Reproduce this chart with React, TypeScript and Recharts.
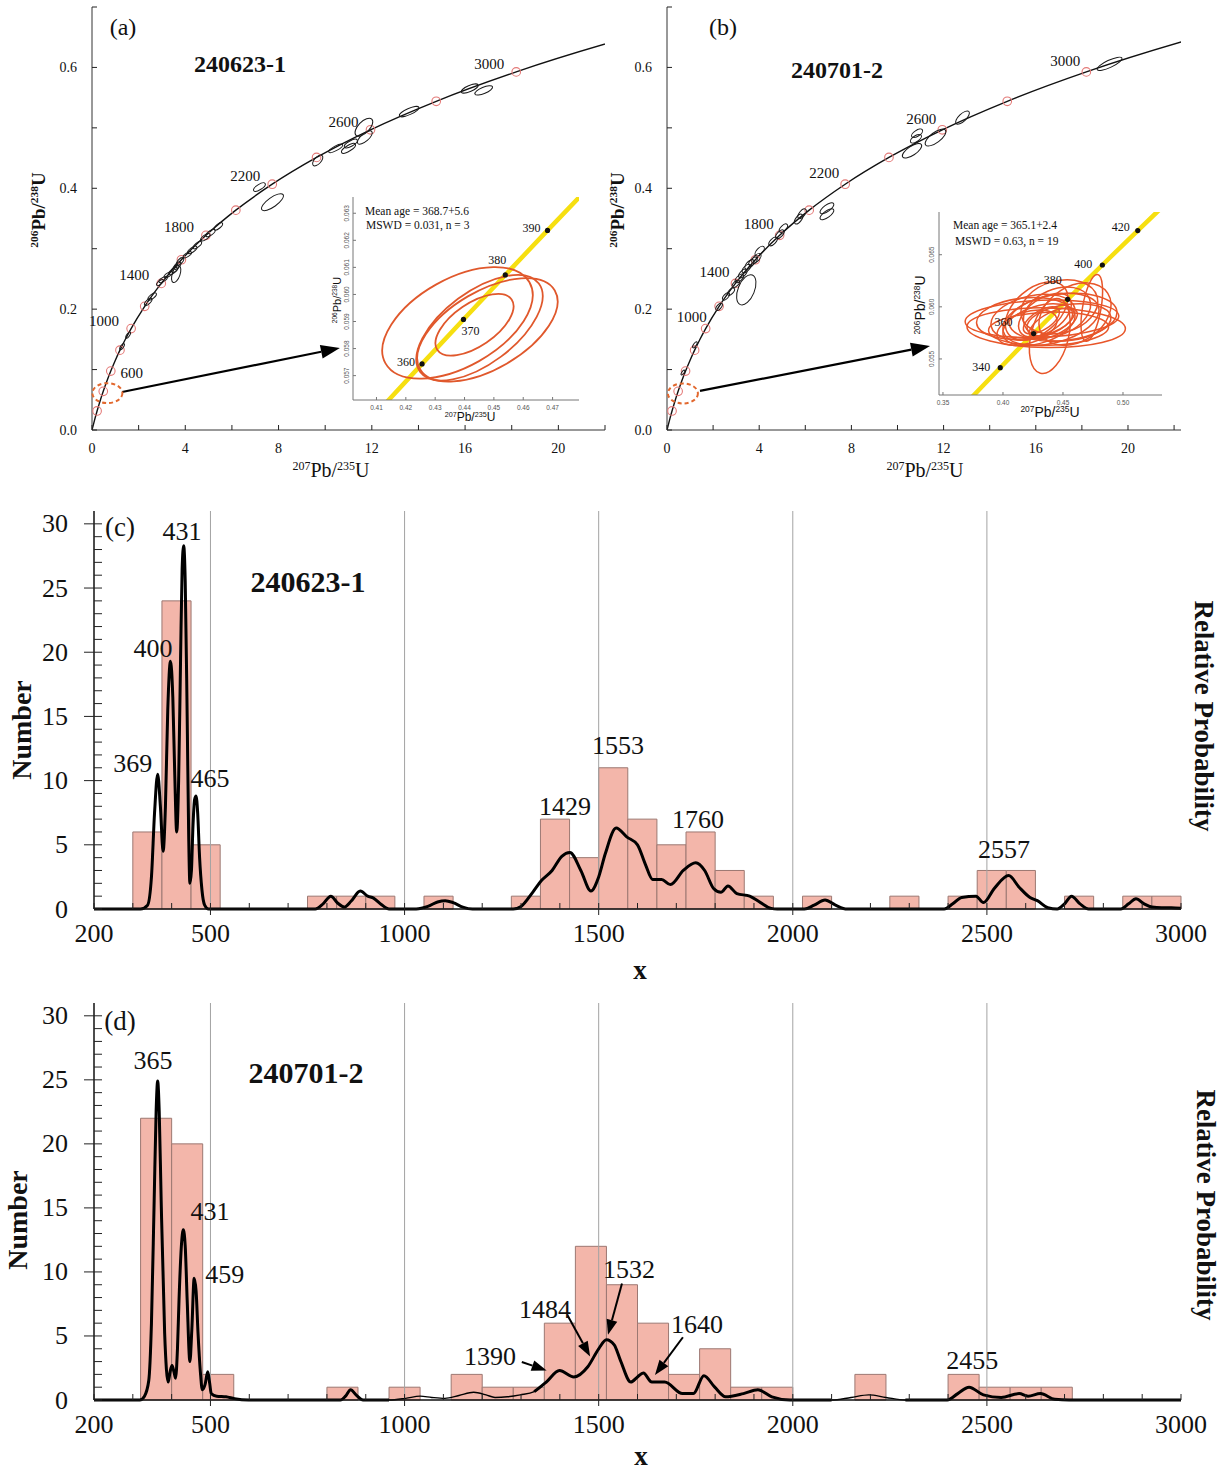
import React from "react";
import {
  ComposedChart,
  Line,
  Scatter,
  XAxis,
  YAxis,
  ReferenceArea,
  ReferenceLine,
  ReferenceDot,
} from "recharts";

const SERIF = '"Liberation Serif", "Times New Roman", serif';
const SANS = '"Liberation Sans", Arial, sans-serif';

// ---------- concordia: age (Ma), 207Pb/235U, 206Pb/238U ----------
const concordiaAge = [0, 100, 200, 300, 400, 500, 600, 700, 800, 900, 1000, 1200, 1400, 1600, 1800, 2000, 2200, 2400, 2600, 2800, 3000, 3200, 3300];
const concordiaX = [0, 0.1035, 0.2177, 0.3437, 0.4828, 0.6363, 0.8056, 0.9925, 1.1987, 1.4263, 1.6774, 2.2603, 2.9701, 3.8344, 4.8869, 6.1685, 7.7292, 9.6296, 11.944, 14.762, 18.193, 22.372, 24.79];
const concordiaY = [0, 0.01563, 0.03151, 0.04764, 0.06402, 0.08065, 0.09754, 0.1147, 0.13213, 0.14983, 0.16781, 0.2046, 0.24256, 0.28171, 0.32211, 0.36378, 0.40675, 0.45108, 0.49679, 0.54396, 0.5926, 0.64277, 0.66846];
const markedAges = [200, 400, 600, 800, 1000, 1200, 1400, 1600, 1800, 2000, 2200, 2400, 2600, 2800, 3000];
const labelledAgesA = [600, 1000, 1400, 1800, 2200, 2600, 3000];
const labelledAgesB = [1000, 1400, 1800, 2200, 2600, 3000];

// zoomed concordia for the insets
const insetAge = [320, 330, 340, 350, 360, 370, 380, 390, 400, 410, 420, 430, 440];
const insetX = [0.37048, 0.38404, 0.39774, 0.41156, 0.42553, 0.43964, 0.45389, 0.46828, 0.48282, 0.49749, 0.51231, 0.52728, 0.54239];
const insetY = [0.050893, 0.052524, 0.054158, 0.055795, 0.057434, 0.059076, 0.06072, 0.062366, 0.064016, 0.065667, 0.067322, 0.068979, 0.070638];
const insetDotsA = [360, 370, 380, 390];
const insetDotsB = [340, 360, 380, 400, 420];

// analyses: [207Pb/235U, 206Pb/238U, err x, err y, rho]
const grainsA = [
  [16.2, 0.565, 0.36, 0.0075, 0.7], [16.8, 0.562, 0.38, 0.0078, 0.7], [13.6, 0.527, 0.42, 0.0085, 0.75],
  [11.66, 0.501, 0.38, 0.015, 0.6], [11.7, 0.484, 0.32, 0.011, 0.7], [11.1, 0.474, 0.28, 0.007, 0.7],
  [11.0, 0.466, 0.3, 0.008, 0.75], [10.45, 0.466, 0.3, 0.007, 0.8], [9.68, 0.446, 0.22, 0.009, 0.6],
  [7.18, 0.402, 0.25, 0.007, 0.7], [7.74, 0.377, 0.47, 0.014, 0.75], [5.42, 0.337, 0.18, 0.006, 0.7],
  [5.08, 0.326, 0.2, 0.006, 0.7], [4.86, 0.319, 0.2, 0.006, 0.7], [4.52, 0.306, 0.18, 0.006, 0.7],
  [4.3, 0.298, 0.2, 0.006, 0.7], [4.09, 0.29, 0.18, 0.005, 0.7], [3.78, 0.279, 0.15, 0.006, 0.6],
  [3.66, 0.272, 0.15, 0.006, 0.6], [3.57, 0.267, 0.15, 0.006, 0.6], [3.48, 0.263, 0.18, 0.006, 0.7],
  [3.27, 0.257, 0.18, 0.005, 0.7], [3.05, 0.249, 0.18, 0.005, 0.7], [2.92, 0.244, 0.15, 0.005, 0.7],
  [3.61, 0.258, 0.2, 0.014, 0.5], [2.58, 0.221, 0.18, 0.006, 0.7], [2.41, 0.212, 0.16, 0.006, 0.7],
  [1.55, 0.157, 0.1, 0.005, 0.7], [1.29, 0.138, 0.1, 0.005, 0.7],
];
const grainsB = [
  [19.2, 0.606, 0.54, 0.011, 0.8], [12.82, 0.517, 0.3, 0.011, 0.7], [11.65, 0.484, 0.45, 0.014, 0.7],
  [10.85, 0.491, 0.24, 0.007, 0.6], [10.8, 0.482, 0.24, 0.007, 0.6], [10.63, 0.462, 0.42, 0.012, 0.7],
  [6.94, 0.367, 0.3, 0.009, 0.7], [6.94, 0.357, 0.3, 0.009, 0.7], [5.86, 0.358, 0.18, 0.008, 0.6],
  [5.71, 0.349, 0.18, 0.008, 0.6], [5.05, 0.334, 0.18, 0.007, 0.6], [4.9, 0.324, 0.18, 0.007, 0.6],
  [4.6, 0.312, 0.18, 0.007, 0.6], [4.02, 0.296, 0.2, 0.008, 0.6], [3.88, 0.284, 0.2, 0.008, 0.6],
  [3.73, 0.279, 0.18, 0.007, 0.6], [3.58, 0.274, 0.2, 0.008, 0.6], [3.44, 0.267, 0.18, 0.007, 0.6],
  [3.29, 0.259, 0.18, 0.007, 0.6], [3.14, 0.251, 0.18, 0.007, 0.6], [2.99, 0.242, 0.16, 0.006, 0.6],
  [2.78, 0.229, 0.15, 0.006, 0.6], [2.56, 0.221, 0.15, 0.006, 0.6], [2.26, 0.204, 0.14, 0.006, 0.6],
  [3.44, 0.232, 0.42, 0.025, 0.45], [1.21, 0.141, 0.1, 0.005, 0.7], [0.69, 0.095, 0.08, 0.004, 0.7],
];
const insetGrainsA = [
  [0.4376, 0.05895, 0.0256, 0.00206, 0.5], [0.4451, 0.05877, 0.0215, 0.00195, 0.6],
  [0.4478, 0.05869, 0.0239, 0.00191, 0.55], [0.4434, 0.05888, 0.0133, 0.00114, 0.6],
];
const insetGrainsB = [
  [0.4325, 0.05885, 0.064, 0.0018, 0.15], [0.436, 0.058, 0.066, 0.0019, -0.05], [0.439, 0.0572, 0.017, 0.0036, 0.35],
  [0.474, 0.0599, 0.009, 0.0032, 0.5], [0.425, 0.059, 0.035, 0.0022, 0.3], [0.44, 0.0588, 0.04, 0.0025, 0.35],
  [0.45, 0.059, 0.045, 0.0023, 0.2], [0.43, 0.0583, 0.03, 0.002, 0.4], [0.445, 0.0595, 0.028, 0.0024, 0.3],
  [0.435, 0.0592, 0.022, 0.0021, 0.5], [0.455, 0.0585, 0.035, 0.0018, 0.25], [0.42, 0.058, 0.025, 0.0017, 0.4],
  [0.438, 0.0579, 0.05, 0.0016, 0.1], [0.447, 0.06, 0.032, 0.0026, 0.2], [0.428, 0.0596, 0.026, 0.0028, 0.45],
  [0.442, 0.0584, 0.02, 0.0015, 0.6], [0.432, 0.0587, 0.015, 0.0013, 0.6], [0.46, 0.0593, 0.03, 0.003, 0.3],
  [0.418, 0.0589, 0.04, 0.002, 0.2],
];

// ---------- histograms ----------
const binWidthC = 75;
const binStartC = [300, 375, 450, 750, 825, 900, 1050, 1275, 1350, 1425, 1500, 1575, 1650, 1725, 1800, 1875, 2025, 2250, 2400, 2475, 2550, 2700, 2850, 2925];
const binCountC = [6, 24, 5, 1, 1, 1, 1, 1, 7, 4, 11, 7, 5, 6, 3, 1, 1, 1, 1, 3, 3, 1, 1, 1];
const curveAgeC = [200, 320, 338, 348, 356, 364, 371, 378, 384, 390, 397, 403, 408, 413, 418, 423, 427, 431, 435, 440, 444, 447, 451, 455, 459, 463, 467, 472, 478, 485, 495,
  770, 790, 810, 828, 845, 862, 886, 905, 920, 940, 960,
  1030, 1060, 1085, 1105, 1125, 1150, 1175,
  1280, 1300, 1330, 1352, 1380, 1405, 1426, 1454, 1480, 1500, 1517, 1545, 1573, 1600, 1620, 1639, 1662, 1685, 1718, 1750, 1773, 1796, 1815, 1833, 1856, 1889, 1917, 1944, 1960,
  2030, 2055, 2083, 2110, 2140,
  2390, 2412, 2435, 2472, 2491, 2519, 2556, 2583, 2611, 2630, 2657, 2681, 2700, 2718, 2740, 2762,
  2845, 2865, 2884, 2905, 2925, 2950, 2975, 3000];
const curveDensC = [0, 0, 0.3, 2.5, 7.5, 10.5, 8, 4.5, 8, 15.5, 19.3, 16.5, 10.5, 6, 10, 19.5, 26.5, 28.3, 25.5, 15, 5.5, 2, 3, 6.5, 8.5, 8.8, 7.5, 4, 1.5, 0.3, 0,
  0, 0.4, 1.0, 0.45, 0.15, 0.6, 1.4, 1.0, 0.85, 0.35, 0,
  0, 0.2, 0.55, 0.65, 0.5, 0.15, 0,
  0, 0.2, 1.3, 2.2, 3.0, 4.1, 4.4, 3.0, 1.4, 2.5, 4.3, 6.3, 5.6, 5.0, 3.5, 2.3, 2.3, 1.9, 3.0, 3.6, 3.0, 1.6, 1.3, 1.8, 1.2, 1.0, 0.5, 0.05, 0,
  0, 0.3, 0.7, 0.3, 0,
  0, 0.4, 0.9, 1.0, 0.5, 1.6, 2.6, 1.7, 0.9, 0.65, 0.1, 0, 0.4, 1.0, 0.4, 0,
  0, 0.4, 0.8, 0.4, 0.15, 0.1, 0.1, 0.05];
const peaksC = ["369", "400", "431", "465", "1429", "1553", "1760", "2557"];

const binWidthD = 80;
const binStartD = [320, 400, 480, 800, 960, 1120, 1200, 1280, 1360, 1440, 1520, 1600, 1680, 1760, 1840, 1920, 2160, 2400, 2480, 2560, 2640];
const binCountD = [22, 20, 2, 1, 1, 2, 1, 1, 6, 12, 9, 6, 2, 4, 1, 1, 2, 2, 1, 1, 1];
const curveAgeD = [200, 318, 330, 341, 348, 355, 360, 364, 368, 373, 382, 391, 396, 401, 406, 410, 415, 419, 425, 430, 435, 440, 447, 452, 458, 463, 468, 474, 479, 486, 493, 498, 502, 516, 540, 562, 598,
  835, 848, 861, 875, 893,
  960, 1003, 1040, 1070, 1104, 1140, 1178, 1210, 1233, 1265, 1298, 1334, 1365, 1399, 1436, 1472, 1500, 1520, 1540, 1556, 1583, 1600, 1615, 1637, 1670, 1716, 1744, 1771, 1799, 1827, 1873, 1910, 1946, 1993,
  2100, 2150, 2196, 2240, 2290,
  2398, 2425, 2454, 2491, 2537, 2583, 2606, 2638, 2675, 2712, 3000];
const curveDensD = [0, 0, 0.3, 1.5, 6, 15.6, 22.5, 24.9, 22.5, 15.6, 5.2, 1.4, 2.2, 2.7, 2.2, 1.7, 4.0, 7.8, 12, 13.3, 12, 7.8, 3.0, 5.5, 9.5, 8.5, 5.2, 2.2, 0.8, 1.2, 2.2, 1.3, 0.5, 0.3, 0.25, 0.1, 0,
  0, 0.3, 0.8, 0.4, 0,
  0, 0.13, 0.3, 0.2, 0.13, 0.35, 0.6, 0.4, 0.2, 0.25, 0.4, 0.65, 1.4, 2.3, 1.8, 2.6, 4.0, 4.7, 4.3, 3.1, 1.4, 1.8, 2.1, 1.4, 1.4, 0.5, 0.5, 1.9, 1.0, 0.25, 0.5, 0.8, 0.25, 0,
  0, 0.2, 0.4, 0.2, 0,
  0, 0.5, 1.0, 0.4, 0.2, 0.5, 0.3, 0.5, 0.05, 0, 0];
const peaksD = ["365", "431", "459", "1390", "1484", "1532", "1640", "2455"];

// ticks
const concTicksY = [0, 0.1, 0.2, 0.3, 0.4, 0.5, 0.6, 0.7];
const concLabelsY = [0, 0.2, 0.4, 0.6];
const concTicksX = [0, 2, 4, 6, 8, 10, 12, 14, 16, 18, 20, 22];
const concLabelsX = [0, 4, 8, 12, 16, 20];
const insetTicksXA = [0.41, 0.42, 0.43, 0.44, 0.45, 0.46, 0.47];
const insetTicksYA = [0.057, 0.058, 0.059, 0.06, 0.061, 0.062, 0.063];
const insetTicksXB = [0.35, 0.4, 0.45, 0.5];
const insetTicksYB = [0.055, 0.06, 0.065];
const histTicksX = [200, 300, 400, 500, 600, 700, 800, 900, 1000, 1100, 1200, 1300, 1400, 1500, 1600, 1700, 1800, 1900, 2000, 2100, 2200, 2300, 2400, 2500, 2600, 2700, 2800, 2900, 3000];
const histLabelsX = [200, 500, 1000, 1500, 2000, 2500, 3000];
const histGrid = [500, 1000, 1500, 2000, 2500];
const histTicksY = [0, 1, 2, 3, 4, 5, 6, 7, 8, 9, 10, 11, 12, 13, 14, 15, 16, 17, 18, 19, 20, 21, 22, 23, 24, 25, 26, 27, 28, 29, 30];
const histLabelsY = [0, 5, 10, 15, 20, 25, 30];

// ---------- layout (page pixels) ----------
type G = { left: number; top: number; w: number; h: number; x0: number; y0: number; x1: number; y1: number; xd: [number, number]; yd: [number, number] };
const GA: G = { left: 0, top: 0, w: 620, h: 480, x0: 92, y0: 7, x1: 605, y1: 430, xd: [0, 22], yd: [0, 0.7] };
const GB: G = { left: 620, top: 0, w: 580, h: 480, x0: 667, y0: 7, x1: 1181, y1: 430, xd: [0, 22.3], yd: [0, 0.7] };
const GIA: G = { left: 320, top: 190, w: 270, h: 235, x0: 353, y0: 197, x1: 579, y1: 400, xd: [0.402, 0.479], yd: [0.0561, 0.0636] };
const GIB: G = { left: 900, top: 205, w: 275, h: 215, x0: 939, y0: 212, x1: 1162, y1: 395, xd: [0.3467, 0.5325], yd: [0.05154, 0.0691] };
const GC: G = { left: 0, top: 500, w: 1228, h: 480, x0: 94, y0: 511, x1: 1181, y1: 909, xd: [200, 3000], yd: [0, 31] };
const GD: G = { left: 0, top: 995, w: 1228, h: 475, x0: 94, y0: 1003, x1: 1181, y1: 1400, xd: [200, 3000], yd: [0, 31] };

function layout(g: G) {
  return {
    margin: { top: g.y0 - g.top, right: g.left + g.w - g.x1, bottom: 0, left: 0 },
    yw: g.x0 - g.left,
    xh: g.top + g.h - g.y1,
    kx: (g.x1 - g.x0) / (g.xd[1] - g.xd[0]),
    ky: (g.y1 - g.y0) / (g.yd[1] - g.yd[0]),
  };
}

const near = (list: number[], v: number) => list.some((l) => Math.abs(l - v) < 1e-9);

type TickOpt = {
  m: number; inner: number; outer?: number; majors?: number[]; labels: number[];
  fmt: (v: number) => string; size: number; family: string; color?: string; rotate?: boolean; stroke?: string;
};

function bottomTick(o: TickOpt) {
  return (p: any) => {
    const v = p.payload.value as number;
    const ay = p.y - o.m;
    const out = o.majors && near(o.majors, v) ? o.outer ?? 0 : 0;
    return (
      <g>
        <line x1={p.x} x2={p.x} y1={ay + out} y2={ay - o.inner} stroke={o.stroke ?? "#222"} strokeWidth={1} />
        {near(o.labels, v) && (
          <text x={p.x} y={p.y} textAnchor="middle" dominantBaseline="central" fontSize={o.size} fontFamily={o.family} fill={o.color ?? "#111"}>
            {o.fmt(v)}
          </text>
        )}
      </g>
    );
  };
}

function leftTick(o: TickOpt) {
  return (p: any) => {
    const v = p.payload.value as number;
    const ax = p.x + o.m;
    const out = o.majors && near(o.majors, v) ? o.outer ?? 0 : 0;
    return (
      <g>
        <line x1={ax - out} x2={ax + o.inner} y1={p.y} y2={p.y} stroke={o.stroke ?? "#222"} strokeWidth={1} />
        {near(o.labels, v) &&
          (o.rotate ? (
            <text x={p.x} y={p.y} transform={`rotate(-90 ${p.x} ${p.y})`} textAnchor="middle" dominantBaseline="central" fontSize={o.size} fontFamily={o.family} fill={o.color ?? "#111"}>
              {o.fmt(v)}
            </text>
          ) : (
            <text x={p.x} y={p.y} textAnchor="end" dominantBaseline="central" fontSize={o.size} fontFamily={o.family} fill={o.color ?? "#111"}>
              {o.fmt(v)}
            </text>
          ))}
      </g>
    );
  };
}

// error ellipse from x/y errors and correlation, converted to pixels
function ErrEllipse({ p, kx, ky, stroke, w }: any) {
  const d = p.payload;
  const a = kx * d.sx;
  const b = ky * d.sy;
  const cxx = a * a, cyy = b * b, cxy = -d.rho * a * b;
  const mid = (cxx + cyy) / 2;
  const dd = Math.sqrt(((cxx - cyy) / 2) ** 2 + cxy * cxy);
  const rx = Math.sqrt(mid + dd);
  const ry = Math.sqrt(Math.max(mid - dd, 0.3));
  const deg = (0.5 * Math.atan2(2 * cxy, cxx - cyy) * 180) / Math.PI;
  return (
    <ellipse cx={p.cx} cy={p.cy} rx={rx} ry={ry} transform={`rotate(${deg} ${p.cx} ${p.cy})`} fill="none" stroke={stroke} strokeWidth={w} />
  );
}

function Arrow(p: any) {
  const x1 = p.x1 ?? p.points?.[0]?.x, y1 = p.y1 ?? p.points?.[0]?.y;
  const x2 = p.x2 ?? p.points?.[1]?.x, y2 = p.y2 ?? p.points?.[1]?.y;
  if (x1 == null || x2 == null) return <g />;
  const ang = Math.atan2(y2 - y1, x2 - x1);
  const L = p.head ?? 16, W = p.hw ?? 6;
  const bx = x2 - L * Math.cos(ang), by = y2 - L * Math.sin(ang);
  const nx = -Math.sin(ang) * W, ny = Math.cos(ang) * W;
  return (
    <g>
      <line x1={x1} y1={y1} x2={bx} y2={by} stroke="#000" strokeWidth={p.sw ?? 2} />
      <polygon points={`${x2},${y2} ${bx + nx},${by + ny} ${bx - nx},${by - ny}`} fill="#000" />
    </g>
  );
}

const textAt = (t: string, size: number, family = SERIF, dx = 0, dy = 0) => (p: any) => (
  <text x={p.cx + dx} y={p.cy + dy} textAnchor="middle" dominantBaseline="central" fontSize={size} fontFamily={family} fill="#111">
    {t}
  </text>
);

const toGrain = (r: number[]) => ({ x: r[0], y: r[1], sx: r[2], sy: r[3], rho: r[4] });
const concordia = concordiaAge.map((t, i) => ({ age: t, x: concordiaX[i], y: concordiaY[i] }));
const insetConcordia = insetAge.map((t, i) => ({ age: t, x: insetX[i], y: insetY[i] }));

// ---------- concordia panel ----------
function ConcordiaPanel(props: {
  g: G; grains: number[][]; labelled: number[]; off: (age: number) => [number, number];
  origin: { x: number; y: number }; arrow: [{ x: number; y: number }, { x: number; y: number }];
}) {
  const { g } = props;
  const L = layout(g);
  const marks = concordia.filter((c) => markedAges.includes(c.age));
  const grains = props.grains.map(toGrain);
  return (
    <div style={{ position: "absolute", left: g.left, top: g.top }}>
      <ComposedChart width={g.w} height={g.h} margin={L.margin}>
        <XAxis type="number" dataKey="x" domain={g.xd} allowDataOverflow ticks={concTicksX.filter((t) => t <= g.xd[1])} interval={0}
          tickSize={0} tickMargin={18} tickLine={false} height={L.xh} axisLine={{ stroke: "#333" }}
          tick={bottomTick({ m: 18, inner: 5, labels: concLabelsX, fmt: (v) => String(v), size: 14, family: SERIF })} />
        <YAxis type="number" dataKey="y" domain={g.yd} allowDataOverflow ticks={concTicksY} interval={0}
          tickSize={0} tickMargin={15} tickLine={false} width={L.yw} axisLine={{ stroke: "#333" }}
          tick={leftTick({ m: 15, inner: 5, labels: concLabelsY, fmt: (v) => v.toFixed(1), size: 14, family: SERIF })} />
        <XAxis xAxisId="top" orientation="top" type="number" domain={g.xd} height={0} tick={false} tickLine={false} axisLine={{ stroke: "#333" }} />
        <YAxis yAxisId="right" orientation="right" type="number" domain={g.yd} width={0} tick={false} tickLine={false} axisLine={{ stroke: "#333" }} />
        <Line data={concordia} dataKey="y" type="monotone" stroke="#111" strokeWidth={1.4} dot={false} isAnimationActive={false} />
        <Scatter data={marks} isAnimationActive={false}
          shape={(p: any) => <circle cx={p.cx} cy={p.cy} r={4.3} fill="none" stroke="#e47a78" strokeWidth={1.1} />} />
        <Scatter data={grains} isAnimationActive={false}
          shape={(p: any) => <ErrEllipse p={p} kx={L.kx} ky={L.ky} stroke="#1a1a1a" w={1} />} />
        {props.labelled.map((age) => {
          const c = concordia.find((k) => k.age === age)!;
          const [dx, dy] = props.off(age);
          return <ReferenceDot key={age} x={c.x} y={c.y} shape={textAt(String(age), 15, SERIF, dx, dy)} />;
        })}
        <ReferenceDot x={props.origin.x} y={props.origin.y}
          shape={(p: any) => <ellipse cx={p.cx} cy={p.cy} rx={15} ry={10} fill="none" stroke="#e2682e" strokeWidth={2} strokeDasharray="4 3" />} />
        <ReferenceLine segment={props.arrow} shape={(p: any) => <Arrow {...p} head={19} hw={7} sw={2.2} />} />
      </ComposedChart>
    </div>
  );
}

// ---------- inset panel ----------
function InsetPanel(props: {
  g: G; grains: number[][]; dots: number[]; off: Record<number, [number, number]>;
  ticksX: number[]; ticksY: number[]; fmtX: (v: number) => string; fmtY: (v: number) => string;
  red: string; redW: number; lineOnTop: boolean; labelSize: number; mx: number; my: number;
}) {
  const { g } = props;
  const L = layout(g);
  const grains = props.grains.map(toGrain);
  const dots = insetConcordia.filter((c) => props.dots.includes(c.age));
  const yellow = (
    <Line data={insetConcordia} dataKey="y" type="linear" stroke="#f6df10" strokeWidth={4.5} dot={false} isAnimationActive={false} />
  );
  return (
    <div style={{ position: "absolute", left: g.left, top: g.top }}>
      <ComposedChart width={g.w} height={g.h} margin={L.margin}>
        <XAxis type="number" dataKey="x" domain={g.xd} allowDataOverflow ticks={props.ticksX} interval={0}
          tickSize={0} tickMargin={props.mx} tickLine={false} height={L.xh} axisLine={{ stroke: "#777" }}
          tick={bottomTick({ m: props.mx, inner: 3, labels: props.ticksX, fmt: props.fmtX, size: 6.5, family: SANS, color: "#555", stroke: "#777" })} />
        <YAxis type="number" dataKey="y" domain={g.yd} allowDataOverflow ticks={props.ticksY} interval={0}
          tickSize={0} tickMargin={props.my} tickLine={false} width={L.yw} axisLine={{ stroke: "#777" }}
          tick={leftTick({ m: props.my, inner: 3, labels: props.ticksY, fmt: props.fmtY, size: 6.5, family: SANS, color: "#555", stroke: "#777", rotate: true })} />
        <XAxis xAxisId="top" orientation="top" type="number" domain={g.xd} height={0} tick={false} tickLine={false} axisLine={{ stroke: "#777" }} />
        <YAxis yAxisId="right" orientation="right" type="number" domain={g.yd} width={0} tick={false} tickLine={false} axisLine={{ stroke: "#777" }} />
        {!props.lineOnTop && yellow}
        <Scatter data={grains} isAnimationActive={false}
          shape={(p: any) => <ErrEllipse p={p} kx={L.kx} ky={L.ky} stroke={props.red} w={props.redW} />} />
        {props.lineOnTop && yellow}
        <Scatter data={dots} isAnimationActive={false} shape={(p: any) => <circle cx={p.cx} cy={p.cy} r={2.6} fill="#111" />} />
        {dots.map((d) => {
          const [dx, dy] = props.off[d.age];
          return <ReferenceDot key={d.age} x={d.x} y={d.y} shape={textAt(String(d.age), props.labelSize, SERIF, dx, dy)} />;
        })}
      </ComposedChart>
    </div>
  );
}

// ---------- histogram panel ----------
type Ann = { t: string; x: number; y: number };
type Arr = { x1: number; y1: number; x2: number; y2: number };

function HistPanel(props: {
  g: G; starts: number[]; counts: number[]; width: number; ages: number[]; dens: number[];
  labels: Ann[]; arrows: Arr[]; thin: [number, number][];
}) {
  const { g } = props;
  const L = layout(g);
  const inThin = (a: number) => props.thin.some(([lo, hi]) => a > lo && a < hi);
  const curve = props.ages.map((a, i) => ({ x: a, y: props.dens[i], t: inThin(a) ? null : props.dens[i] }));
  return (
    <div style={{ position: "absolute", left: g.left, top: g.top }}>
      <ComposedChart width={g.w} height={g.h} margin={L.margin}>
        <XAxis type="number" dataKey="x" domain={g.xd} ticks={histTicksX} interval={0}
          tickSize={0} tickMargin={24} tickLine={false} height={L.xh} axisLine={{ stroke: "#111", strokeWidth: 1.5 }}
          tick={bottomTick({ m: 24, inner: 6, outer: 6, majors: histGrid, labels: histLabelsX, fmt: (v) => String(v), size: 26, family: SERIF })} />
        <YAxis type="number" dataKey="y" domain={g.yd} ticks={histTicksY} interval={0}
          tickSize={0} tickMargin={26} tickLine={false} width={L.yw} axisLine={{ stroke: "#111", strokeWidth: 1.5 }}
          tick={leftTick({ m: 26, inner: 8, outer: 10, majors: [5, 10, 15, 20, 25, 30], labels: histLabelsY, fmt: (v) => String(v), size: 26, family: SERIF })} />
        <XAxis xAxisId="top" orientation="top" type="number" domain={g.xd} height={0} tick={false} tickLine={false} axisLine={{ stroke: "#999" }} />
        <YAxis yAxisId="right" orientation="right" type="number" domain={g.yd} width={0} tick={false} tickLine={false} axisLine={{ stroke: "#111", strokeWidth: 1.5 }} />
        {histGrid.map((v) => (
          <ReferenceLine key={v} x={v} stroke="#a3a3a3" strokeWidth={1} />
        ))}
        {props.starts.map((s, i) => (
          <ReferenceArea key={s} x1={s} x2={s + props.width} y1={0} y2={props.counts[i]} fill="#f3b6aa" fillOpacity={1} stroke="#9c7872" strokeWidth={1} ifOverflow="visible" />
        ))}
        <Line data={curve} dataKey="y" type="monotone" stroke="#000" strokeWidth={1.4} dot={false} isAnimationActive={false} />
        <Line data={curve} dataKey="t" type="monotone" stroke="#000" strokeWidth={3} strokeLinejoin="round" dot={false} isAnimationActive={false} connectNulls={false} />
        {props.labels.map((a) => (
          <ReferenceDot key={a.t} x={a.x} y={a.y} shape={textAt(a.t, 26)} />
        ))}
        {props.arrows.map((a, i) => (
          <ReferenceLine key={i} segment={[{ x: a.x1, y: a.y1 }, { x: a.x2, y: a.y2 }]} shape={(p: any) => <Arrow {...p} head={15} hw={5.5} sw={2} />} />
        ))}
      </ComposedChart>
    </div>
  );
}

// ---------- html text ----------
function Txt({ x, y, size, bold, rot = 0, family = SERIF, left = false, children }: any) {
  return (
    <div
      style={{
        position: "absolute", left: x, top: y,
        transform: `translate(${left ? "0" : "-50%"}, -50%) rotate(${rot}deg)`,
        transformOrigin: left ? "left center" : "center",
        fontSize: size, fontWeight: bold ? 700 : 400, fontFamily: family,
        lineHeight: 1, whiteSpace: "nowrap", color: "#111",
      }}
    >
      {children}
    </div>
  );
}
const Sup = ({ children }: any) => <span style={{ fontSize: "0.6em", position: "relative", top: "-0.62em" }}>{children}</span>;
const Ratio = ({ a, b, c, d }: any) => (
  <>
    <Sup>{a}</Sup>{b}/<Sup>{c}</Sup>{d}
  </>
);

// label anchors (data coords) for histogram peak ages
const labelPosC: [number, number][] = [[300, 11.3], [352, 20.3], [427, 29.4], [499, 10.2], [1413, 8.0], [1550, 12.7], [1756, 7.0], [2544, 4.67]];
const labelPosD: [number, number][] = [[352, 26.5], [499, 14.7], [537, 9.8], [1220, 3.36], [1362, 7.1], [1578, 10.2], [1753, 5.9], [2462, 3.05]];
const arrowsD: Arr[] = [
  { x1: 1302, y1: 2.97, x2: 1366, y2: 2.3 },
  { x1: 1420, y1: 6.6, x2: 1478, y2: 3.4 },
  { x1: 1560, y1: 9.1, x2: 1524, y2: 5.1 },
  { x1: 1717, y1: 4.9, x2: 1645, y2: 1.95 },
];

export default function App() {
  return (
    <div style={{ position: "absolute", left: 0, top: 0, width: 1228, height: 1470, background: "#fff", overflow: "hidden", fontFamily: SERIF }}>
      <ConcordiaPanel g={GA} grains={grainsA} labelled={labelledAgesA}
        off={(age) => (age === 600 ? [21, 2] : [-27, -8])}
        origin={{ x: 0.66, y: 0.061 }} arrow={[{ x: 1.29, y: 0.0629 }, { x: 10.63, y: 0.1357 }]} />
      <ConcordiaPanel g={GB} grains={grainsB} labelled={labelledAgesB}
        off={(age) => (age === 1000 ? [-14, -12] : [-21, -11])}
        origin={{ x: 0.69, y: 0.0605 }} arrow={[{ x: 1.43, y: 0.0647 }, { x: 11.41, y: 0.139 }]} />
      <InsetPanel g={GIA} grains={insetGrainsA} dots={insetDotsA}
        off={{ 360: [-16, -2], 370: [7, 12], 380: [-8, -15], 390: [-16, -2] }}
        ticksX={insetTicksXA} ticksY={insetTicksYA} fmtX={(v) => v.toFixed(2)} fmtY={(v) => v.toFixed(3)}
        red="#e0582c" redW={1.8} lineOnTop labelSize={12} mx={7} my={6} />
      <InsetPanel g={GIB} grains={insetGrainsB} dots={insetDotsB}
        off={{ 340: [-19, -1], 360: [-30, -12], 380: [-15, -19], 400: [-19, -1], 420: [-17, -4] }}
        ticksX={insetTicksXB} ticksY={insetTicksYB} fmtX={(v) => v.toFixed(2)} fmtY={(v) => v.toFixed(3)}
        red="#e8562a" redW={1.5} lineOnTop={false} labelSize={12} mx={7} my={7} />
      <HistPanel g={GC} starts={binStartC} counts={binCountC} width={binWidthC} ages={curveAgeC} dens={curveDensC}
        labels={peaksC.map((t, i) => ({ t, x: labelPosC[i][0], y: labelPosC[i][1] }))} arrows={[]} thin={[]} />
      <HistPanel g={GD} starts={binStartD} counts={binCountD} width={binWidthD} ages={curveAgeD} dens={curveDensD}
        labels={peaksD.map((t, i) => ({ t, x: labelPosD[i][0], y: labelPosD[i][1] }))} arrows={arrowsD}
        thin={[[960, 1334], [2100, 2290]]} />

      {/* panel (a) / (b) texts */}
      <Txt x={123} y={27} size={24}>(a)</Txt>
      <Txt x={240} y={64} size={24} bold>240623-1</Txt>
      <Txt x={38} y={210} size={19} bold rot={-90}><Ratio a="206" b="Pb" c="238" d="U" /></Txt>
      <Txt x={331} y={470} size={20}><Ratio a="207" b="Pb" c="235" d="U" /></Txt>
      <Txt x={723} y={27} size={24}>(b)</Txt>
      <Txt x={837} y={70} size={24} bold>240701-2</Txt>
      <Txt x={617} y={210} size={19} bold rot={-90}><Ratio a="206" b="Pb" c="238" d="U" /></Txt>
      <Txt x={925} y={470} size={20}><Ratio a="207" b="Pb" c="235" d="U" /></Txt>

      {/* inset texts */}
      <Txt x={365} y={212} size={11.5} left>Mean age = 368.7+5.6</Txt>
      <Txt x={366} y={226} size={11.5} left>MSWD = 0.031,  n = 3</Txt>
      <Txt x={470} y={417} size={12} family={SANS}><Ratio a="207" b="Pb" c="235" d="U" /></Txt>
      <Txt x={337} y={300} size={11} family={SANS} rot={-90}><Ratio a="206" b="Pb" c="238" d="U" /></Txt>
      <Txt x={953} y={226} size={11.5} left>Mean age = 365.1+2.4</Txt>
      <Txt x={955} y={242} size={11.5} left>MSWD = 0.63,  n = 19</Txt>
      <Txt x={1050} y={412} size={14} family={SANS}><Ratio a="207" b="Pb" c="235" d="U" /></Txt>
      <Txt x={920} y={305} size={14} family={SANS} rot={-90}><Ratio a="206" b="Pb" c="238" d="U" /></Txt>

      {/* histogram texts */}
      <Txt x={120} y={527} size={27}>(c)</Txt>
      <Txt x={308} y={582} size={30} bold>240623-1</Txt>
      <Txt x={22} y={730} size={28} bold rot={-90}>Number</Txt>
      <Txt x={640} y={970} size={27} bold>x</Txt>
      <Txt x={1203} y={716} size={27} bold rot={90}>Relative Probability</Txt>
      <Txt x={120} y={1021} size={27}>(d)</Txt>
      <Txt x={306} y={1073} size={30} bold>240701-2</Txt>
      <Txt x={18} y={1220} size={28} bold rot={-90}>Number</Txt>
      <Txt x={641} y={1456} size={27} bold>x</Txt>
      <Txt x={1205} y={1205} size={27} bold rot={90}>Relative Probability</Txt>
    </div>
  );
}
